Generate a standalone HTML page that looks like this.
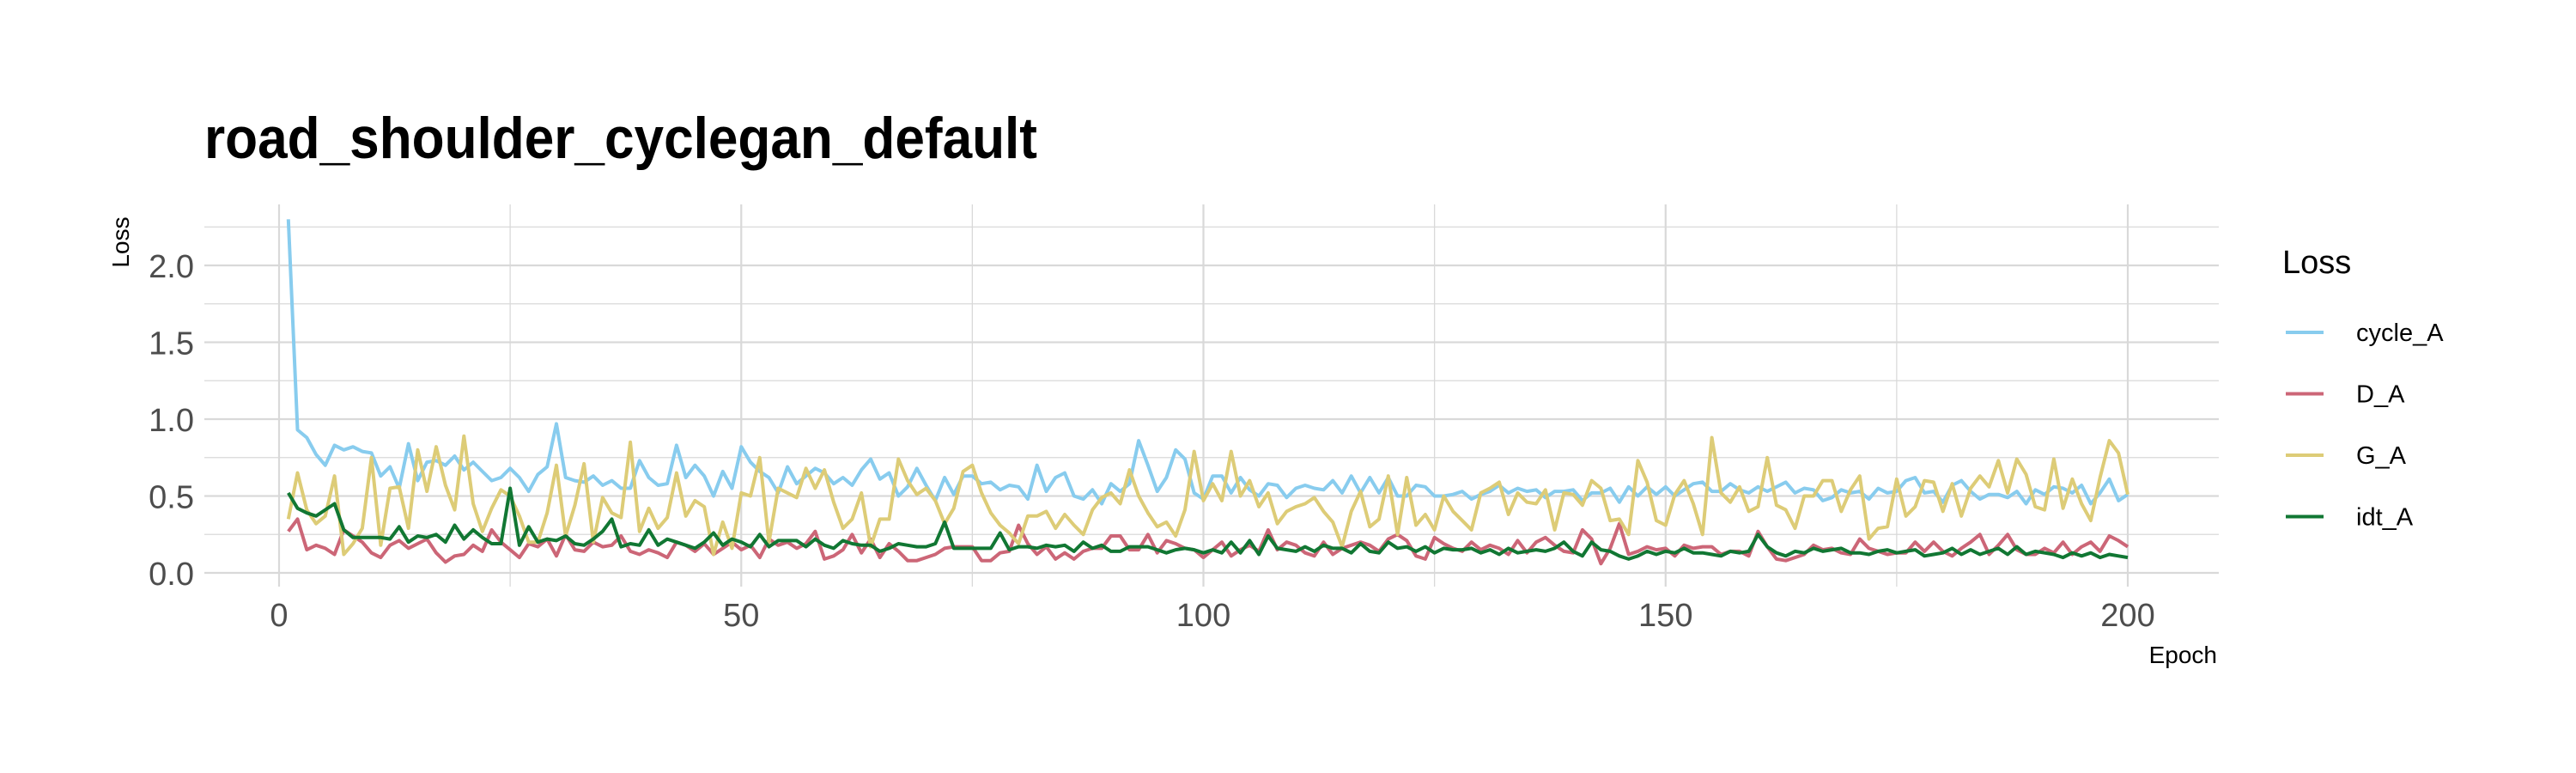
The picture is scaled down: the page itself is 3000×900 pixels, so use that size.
<!DOCTYPE html>
<html><head><meta charset="utf-8"><style>
html,body{margin:0;padding:0;background:#fff;}
svg{display:block;font-family:"Liberation Sans",sans-serif;}
</style></head><body>
<svg id="chart" width="3000" height="900" viewBox="0 0 3000 900" xmlns="http://www.w3.org/2000/svg">
<rect x="0" y="0" width="3000" height="900" fill="#fff"/>
<text x="238" y="184" font-size="68" font-weight="bold" fill="#000" textLength="970" lengthAdjust="spacingAndGlyphs">road_shoulder_cyclegan_default</text>
<g id="grid"></g>
<g id="series"></g>
<g id="axes"></g>
<text x="150" y="282" font-size="28" fill="#000" transform="rotate(-90 150 282)" text-anchor="middle">Loss</text>
<text x="2582" y="772" font-size="28" fill="#000" text-anchor="end">Epoch</text>
<g id="legend">
<text x="2658" y="318" font-size="38" fill="#000">Loss</text>
</g>
</svg>
<script>
const seriesNames = ["cycle_A","D_A","G_A","idt_A"];
const seriesColors = ["#88CCEE","#CC6677","#DDCC77","#117733"];
const yTicks = [0,0.5,1,1.5,2];
const yTickLabels = ["0.0","0.5","1.0","1.5","2.0"];
const xTicks = [0,50,100,150,200];
const xTickLabels = ["0","50","100","150","200"];
const cycleA = [2.30,0.93,0.88,0.77,0.70,0.83,0.80,0.82,0.79,0.78,
0.63,0.69,0.55,0.84,0.60,0.72,0.73,0.70,0.76,0.67,
0.72,0.66,0.60,0.62,0.68,0.62,0.53,0.64,0.69,0.97,
0.62,0.60,0.59,0.63,0.57,0.60,0.55,0.55,0.73,0.62,
0.57,0.58,0.83,0.62,0.70,0.63,0.50,0.66,0.55,0.82,
0.72,0.66,0.62,0.52,0.69,0.58,0.63,0.68,0.65,0.58,
0.62,0.57,0.67,0.74,0.61,0.65,0.50,0.56,0.68,0.57,
0.47,0.62,0.51,0.63,0.63,0.58,0.59,0.54,0.57,0.56,
0.48,0.70,0.53,0.62,0.65,0.50,0.48,0.54,0.45,0.58,
0.53,0.58,0.86,0.70,0.53,0.62,0.80,0.74,0.52,0.48,
0.63,0.63,0.52,0.62,0.54,0.50,0.58,0.57,0.49,0.55,
0.57,0.55,0.54,0.60,0.52,0.63,0.52,0.62,0.52,0.62,
0.50,0.50,0.57,0.56,0.50,0.50,0.51,0.53,0.48,0.51,
0.53,0.57,0.52,0.55,0.53,0.54,0.49,0.53,0.53,0.54,
0.47,0.52,0.52,0.55,0.46,0.56,0.50,0.56,0.51,0.56,
0.50,0.54,0.58,0.59,0.53,0.53,0.58,0.54,0.52,0.56,
0.53,0.56,0.59,0.52,0.55,0.54,0.47,0.49,0.54,0.52,
0.53,0.48,0.55,0.52,0.53,0.60,0.62,0.52,0.53,0.46,
0.57,0.60,0.53,0.48,0.51,0.51,0.49,0.53,0.45,0.54,
0.51,0.56,0.55,0.52,0.57,0.45,0.52,0.61,0.47,0.51];
const dA = [0.27,0.35,0.15,0.18,0.16,0.12,0.28,0.24,0.20,0.13,
0.10,0.18,0.21,0.16,0.19,0.22,0.13,0.07,0.11,0.12,
0.18,0.14,0.28,0.20,0.15,0.10,0.19,0.17,0.22,0.11,
0.25,0.15,0.14,0.20,0.17,0.18,0.24,0.14,0.12,0.15,
0.13,0.10,0.20,0.18,0.14,0.19,0.12,0.16,0.20,0.15,
0.18,0.10,0.22,0.18,0.20,0.16,0.19,0.27,0.09,0.11,
0.15,0.25,0.13,0.22,0.10,0.19,0.14,0.08,0.08,0.10,
0.12,0.16,0.17,0.17,0.17,0.08,0.08,0.13,0.14,0.31,
0.19,0.12,0.17,0.09,0.13,0.09,0.14,0.16,0.16,0.24,
0.24,0.15,0.15,0.25,0.13,0.21,0.19,0.16,0.15,0.10,
0.15,0.20,0.11,0.15,0.18,0.14,0.28,0.15,0.20,0.18,
0.13,0.11,0.20,0.12,0.16,0.18,0.20,0.18,0.14,0.22,
0.25,0.21,0.11,0.09,0.23,0.19,0.16,0.14,0.20,0.15,
0.18,0.16,0.12,0.21,0.13,0.20,0.23,0.18,0.14,0.13,
0.28,0.22,0.06,0.16,0.32,0.12,0.14,0.17,0.15,0.16,
0.11,0.18,0.16,0.17,0.17,0.12,0.14,0.14,0.11,0.27,
0.17,0.09,0.08,0.10,0.12,0.18,0.15,0.16,0.13,0.12,
0.22,0.16,0.14,0.12,0.13,0.13,0.20,0.14,0.20,0.14,
0.11,0.16,0.20,0.25,0.12,0.18,0.25,0.15,0.12,0.12,
0.16,0.13,0.20,0.12,0.17,0.20,0.14,0.24,0.21,0.17];
const gA = [0.35,0.65,0.41,0.32,0.37,0.63,0.12,0.19,0.29,0.75,
0.18,0.55,0.56,0.29,0.80,0.53,0.82,0.57,0.41,0.89,
0.45,0.27,0.42,0.54,0.50,0.37,0.20,0.20,0.39,0.70,
0.24,0.44,0.71,0.20,0.49,0.39,0.36,0.85,0.27,0.42,
0.29,0.36,0.65,0.37,0.47,0.43,0.12,0.33,0.16,0.52,
0.50,0.75,0.20,0.55,0.52,0.49,0.68,0.55,0.67,0.46,
0.29,0.35,0.52,0.17,0.35,0.35,0.74,0.60,0.51,0.55,
0.47,0.32,0.42,0.66,0.70,0.52,0.39,0.31,0.26,0.19,
0.37,0.37,0.40,0.29,0.38,0.31,0.25,0.41,0.49,0.52,
0.45,0.67,0.50,0.39,0.30,0.33,0.24,0.41,0.79,0.47,
0.58,0.47,0.79,0.50,0.60,0.43,0.52,0.32,0.40,0.43,
0.45,0.49,0.40,0.33,0.17,0.40,0.53,0.30,0.35,0.63,
0.25,0.62,0.31,0.38,0.28,0.50,0.40,0.34,0.28,0.52,
0.55,0.59,0.38,0.52,0.46,0.45,0.54,0.28,0.52,0.51,
0.44,0.60,0.55,0.34,0.35,0.25,0.73,0.59,0.34,0.31,
0.51,0.60,0.45,0.25,0.88,0.52,0.46,0.56,0.40,0.43,
0.75,0.44,0.41,0.29,0.50,0.50,0.60,0.60,0.40,0.54,
0.63,0.22,0.29,0.30,0.61,0.37,0.43,0.60,0.59,0.40,
0.58,0.37,0.55,0.63,0.56,0.73,0.52,0.74,0.64,0.43,
0.41,0.74,0.42,0.61,0.45,0.34,0.62,0.86,0.78,0.51];
const idtA = [0.52,0.42,0.39,0.37,0.41,0.45,0.28,0.23,0.23,0.23,
0.23,0.22,0.30,0.20,0.24,0.23,0.25,0.20,0.31,0.22,
0.28,0.23,0.19,0.19,0.55,0.18,0.30,0.20,0.22,0.21,
0.24,0.19,0.18,0.22,0.27,0.35,0.17,0.19,0.18,0.28,
0.18,0.22,0.20,0.18,0.16,0.20,0.26,0.18,0.22,0.20,
0.17,0.25,0.17,0.21,0.21,0.21,0.17,0.22,0.18,0.16,
0.21,0.19,0.18,0.18,0.14,0.16,0.19,0.18,0.17,0.17,
0.19,0.33,0.16,0.16,0.16,0.16,0.16,0.26,0.15,0.17,
0.17,0.16,0.18,0.17,0.18,0.14,0.20,0.16,0.18,0.14,
0.14,0.17,0.17,0.17,0.15,0.13,0.15,0.16,0.15,0.13,
0.15,0.13,0.20,0.13,0.21,0.12,0.24,0.16,0.15,0.14,
0.17,0.14,0.18,0.16,0.16,0.13,0.19,0.14,0.13,0.20,
0.16,0.17,0.14,0.17,0.13,0.16,0.15,0.15,0.16,0.13,
0.15,0.12,0.16,0.13,0.14,0.15,0.14,0.16,0.20,0.14,
0.11,0.20,0.15,0.14,0.11,0.09,0.11,0.14,0.12,0.14,
0.13,0.16,0.13,0.13,0.12,0.11,0.14,0.13,0.14,0.25,
0.17,0.13,0.11,0.14,0.13,0.16,0.14,0.15,0.16,0.13,
0.13,0.12,0.14,0.15,0.13,0.14,0.15,0.11,0.12,0.13,
0.16,0.12,0.15,0.12,0.14,0.16,0.12,0.17,0.12,0.14,
0.13,0.12,0.10,0.13,0.11,0.13,0.10,0.12,0.11,0.10];
const seriesData = [cycleA, dA, gA, idtA];

const NS = "http://www.w3.org/2000/svg";
const PL = 238, PR = 2584, PT = 238, PB = 683;
function xScale(e){ return 325 + (e - 0) * (2478 - 325) / 200; }
function yScale(v){ return 667 - v * 179; }

const grid = document.getElementById('grid');
for (let v = 0; v <= 2.25 + 1e-9; v += 0.25) {
  const major = Math.abs(v*2 - Math.round(v*2)) < 1e-6;
  const l = document.createElementNS(NS,'line');
  
  
  l.setAttribute('x1', PL); l.setAttribute('x2', PR);
  l.setAttribute('y1', yScale(v)); l.setAttribute('y2', yScale(v));
  l.setAttribute('stroke', '#d9d9d9'); l.setAttribute('stroke-width', major ? 2.2 : 1.3);
  grid.appendChild(l);
}
for (let e = 0; e <= 200; e += 25) {
  const major = e % 50 === 0;
  const l = document.createElementNS(NS,'line');
  
  
  l.setAttribute('x1', xScale(e)); l.setAttribute('x2', xScale(e));
  l.setAttribute('y1', PT); l.setAttribute('y2', PB);
  l.setAttribute('stroke', '#d9d9d9'); l.setAttribute('stroke-width', major ? 2.2 : 1.3);
  grid.appendChild(l);
}
const axes = document.getElementById('axes');
yTicks.forEach((v,i) => {
  const t = document.createElementNS(NS,'text');
  
  
  t.setAttribute('x', 226); t.setAttribute('y', yScale(v) + 14);
  t.setAttribute('text-anchor', 'end'); t.setAttribute('font-size', '38');
  t.setAttribute('fill', '#4d4d4d');
  t.textContent = yTickLabels[i];
  axes.appendChild(t);
});
xTicks.forEach((e,i) => {
  const t = document.createElementNS(NS,'text');
  
  
  t.setAttribute('x', xScale(e)); t.setAttribute('y', 729);
  t.setAttribute('text-anchor', 'middle'); t.setAttribute('font-size', '38');
  t.setAttribute('fill', '#4d4d4d');
  t.textContent = xTickLabels[i];
  axes.appendChild(t);
});
const sg = document.getElementById('series');
seriesData.forEach((arr, si) => {
  const p = document.createElementNS(NS,'polyline');
  
  
  p.setAttribute('points', arr.map((v,i) => xScale(i+1).toFixed(1) + ',' + yScale(v).toFixed(1)).join(' '));
  p.setAttribute('fill', 'none'); p.setAttribute('stroke', seriesColors[si]);
  p.setAttribute('stroke-width', '4'); p.setAttribute('stroke-linejoin', 'round');
  sg.appendChild(p);
});
const lg = document.getElementById('legend');
seriesNames.forEach((n, i) => {
  const y = 387 + i * 71.5;
  const l = document.createElementNS(NS,'line');
  
  
  l.setAttribute('x1', 2662); l.setAttribute('x2', 2706);
  l.setAttribute('y1', y); l.setAttribute('y2', y);
  l.setAttribute('stroke', seriesColors[i]); l.setAttribute('stroke-width', '4');
  lg.appendChild(l);
  const t = document.createElementNS(NS,'text');
  
  
  t.setAttribute('x', 2744); t.setAttribute('y', y + 10);
  t.setAttribute('font-size', '29'); t.setAttribute('fill', '#000');
  t.textContent = n;
  lg.appendChild(t);
});
</script>
</body></html>
